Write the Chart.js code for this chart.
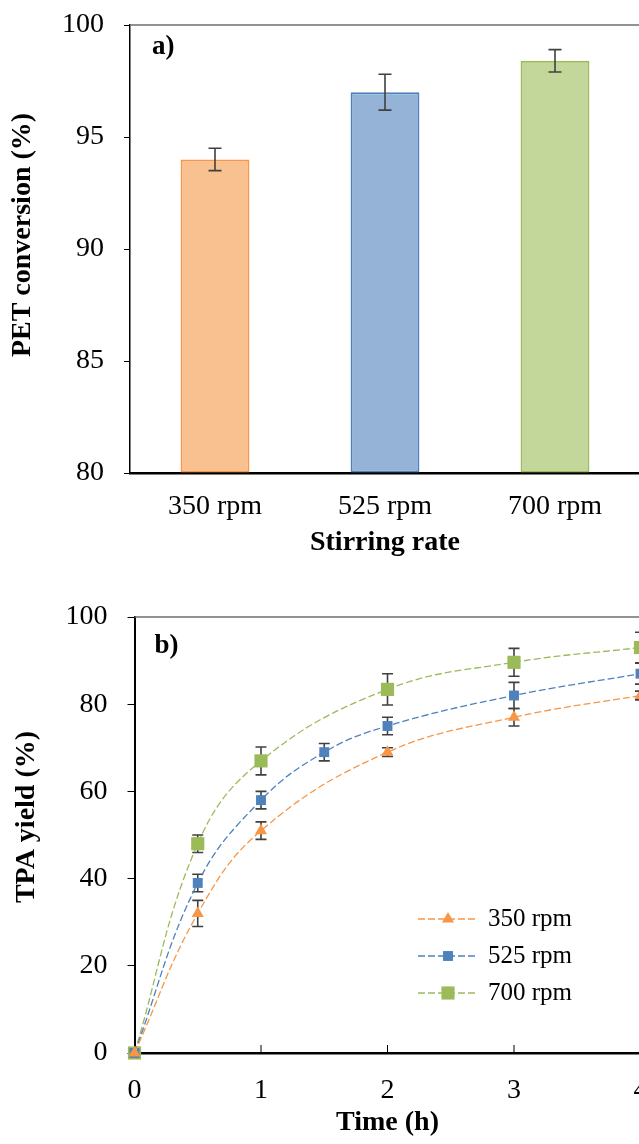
<!DOCTYPE html>
<html>
<head>
<meta charset="utf-8">
<script src="https://cdn.jsdelivr.net/npm/chart.js@4.4.1/dist/chart.umd.min.js"></script>
<style>
  html, body { margin: 0; padding: 0; background: #fff; overflow: hidden; width: 639px; height: 1144px; }
  #wrapA { position: absolute; left: 0; top: 0; }
  #wrapB { position: absolute; left: 0; top: 580px; }
</style>
</head>
<body>
<div id="wrapA"><canvas id="chartA" width="640" height="570"></canvas></div>
<div id="wrapB"><canvas id="chartB" width="700" height="564"></canvas></div>
<script>
// ---------- Data: panel a) ----------
const barCategories = ['350 rpm', '525 rpm', '700 rpm'];
const conversionValues = [94.0, 97.0, 98.4];
const conversionErrors = [0.5, 0.8, 0.5];
const convTicks = [80, 85, 90, 95, 100];

// ---------- Data: panel b) ----------
const seriesLabels = ['350 rpm', '525 rpm', '700 rpm'];
const time350 = [0, 0.5, 1, 2, 3, 4];
const yield350 = [0, 32, 51, 69, 77, 82];
const err350 = [0, 3, 2, 1, 2, 1];
const time525 = [0, 0.5, 1, 1.5, 2, 3, 4];
const yield525 = [0, 39, 58, 69, 75, 82, 87];
const err525 = [0, 2, 2, 2, 2, 3, 2.4];
const time700 = [0, 0.5, 1, 2, 3, 4];
const yield700 = [0, 48, 67, 83.4, 89.6, 93];
const err700 = [0, 2, 3.2, 3.6, 3.2, 3.5];
const timeTicks = [0, 1, 2, 3, 4];
const yieldTicks = [0, 20, 40, 60, 80, 100];

const SERIF = '"Liberation Serif", "Times New Roman", serif';
const ORANGE = '#F79646', BLUE = '#4F81BD', GREEN = '#9BBB59';

// Error bars plugin
const errorBarPlugin = {
  id: 'errorBars',
  draw(chart, opts) {
    const ctx = chart.ctx;
    const ys = chart.scales.y;
    ctx.save();
    ctx.strokeStyle = opts.color || '#404040';
    ctx.lineWidth = opts.lineWidth || 1.5;
    chart.data.datasets.forEach((ds, di) => {
      if (!ds.errors) return;
      const meta = chart.getDatasetMeta(di);
      meta.data.forEach((el, i) => {
        const e = ds.errors[i];
        if (!e) return;
        const raw = ds.data[i];
        const v = (typeof raw === 'object') ? raw.y : raw;
        const x = el.x;
        const yTop = ys.getPixelForValue(v + e);
        const yBot = ys.getPixelForValue(v - e);
        const hw = opts.capHalf || 6;
        ctx.beginPath();
        ctx.moveTo(x, yTop); ctx.lineTo(x, yBot);
        ctx.moveTo(x - hw, yTop); ctx.lineTo(x + hw, yTop);
        ctx.moveTo(x - hw, yBot); ctx.lineTo(x + hw, yBot);
        ctx.stroke();
      });
    });
    ctx.restore();
  },
  beforeDatasetsDraw(chart, args, opts) { if (opts.behind) this.draw(chart, opts); },
  afterDatasetsDraw(chart, args, opts) { if (!opts.behind) this.draw(chart, opts); }
};

// Frame (gray top border), panel letter, y title, inward x ticks, custom legend
const decorPlugin = {
  id: 'decor',
  afterDraw(chart, args, opts) {
    const ctx = chart.ctx;
    const ca = chart.chartArea;
    ctx.save();
    // top & right border
    ctx.strokeStyle = '#6f6f6f';
    ctx.lineWidth = 1.5;
    ctx.beginPath();
    ctx.moveTo(ca.left, ca.top); ctx.lineTo(ca.right, ca.top); ctx.lineTo(ca.right, ca.bottom);
    ctx.stroke();
    // panel letter
    ctx.fillStyle = '#000';
    ctx.font = 'bold 27px ' + SERIF;
    ctx.textBaseline = 'middle';
    ctx.textAlign = 'left';
    ctx.fillText(opts.letter, ca.left + opts.letterDx, ca.top + opts.letterDy);
    // y-axis title (rotated)
    if (opts.yTitle) {
      ctx.save();
      ctx.translate(opts.yTitle.x, (ca.top + ca.bottom) / 2 + opts.yTitle.dy);
      ctx.rotate(-Math.PI / 2);
      ctx.font = 'bold 28px ' + SERIF;
      ctx.textAlign = 'center';
      ctx.textBaseline = 'middle';
      ctx.fillText(opts.yTitle.text, 0, 0);
      ctx.restore();
    }
    // inward x ticks
    if (opts.inwardTicks) {
      const xs = chart.scales.x;
      ctx.strokeStyle = '#000';
      ctx.lineWidth = 1;
      opts.inwardTicks.forEach(t => {
        const px = xs.getPixelForValue(t);
        ctx.beginPath();
        ctx.moveTo(px, ca.bottom); ctx.lineTo(px, ca.bottom - 8);
        ctx.stroke();
      });
    }
    // custom legend
    if (opts.legend) {
      const L = opts.legend;
      chart.data.datasets.forEach((ds, i) => {
        const y = ca.top + L.top + i * L.rowGap;
        const x0 = ca.left + L.left;
        ctx.save();
        ctx.strokeStyle = ds.borderColor;
        ctx.lineWidth = ds.borderWidth;
        ctx.setLineDash(ds.borderDash);
        ctx.beginPath();
        ctx.moveTo(x0, y); ctx.lineTo(x0 + L.lineLen, y);
        ctx.stroke();
        ctx.setLineDash([]);
        ctx.fillStyle = ds.pointBackgroundColor;
        ctx.strokeStyle = ds.pointBorderColor;
        Chart.helpers.drawPoint(ctx, {
          pointStyle: ds.pointStyle, radius: ds.pointRadius, rotation: 0, borderWidth: 0
        }, x0 + L.lineLen / 2, y);
        ctx.restore();
        ctx.fillStyle = '#000';
        ctx.font = '25px ' + SERIF;
        ctx.textBaseline = 'middle';
        ctx.textAlign = 'left';
        ctx.fillText(ds.label, x0 + L.lineLen + L.textGap, y);
      });
    }
    ctx.restore();
  }
};

function noVPad(s, w) { s.width = w; s.paddingTop = 0; s.paddingBottom = 0; }

// ---------- Chart a ----------
new Chart(document.getElementById('chartA'), {
  type: 'bar',
  data: {
    labels: barCategories,
    datasets: [{
      label: 'PET conversion',
      data: conversionValues,
      errors: conversionErrors,
      base: convTicks[0],
      backgroundColor: ['#F9C090', '#95B3D7', '#C4D79B'],
      borderColor: [ORANGE, BLUE, GREEN],
      borderWidth: 2,
      borderSkipped: false,
      barPercentage: 1.0,
      categoryPercentage: 0.405
    }]
  },
  options: {
    responsive: false,
    animation: false,
    devicePixelRatio: 1,
    layout: { padding: { top: 25, right: 0, left: 0, bottom: 0 } },
    plugins: {
      legend: { display: false },
      tooltip: { enabled: false },
      errorBars: { color: '#404040', lineWidth: 1.6, capHalf: 6.5, behind: false },
      decor: { letter: 'a)', letterDx: 22, letterDy: 22,
               yTitle: { text: 'PET conversion (%)', x: 23, dy: -14 } }
    },
    scales: {
      x: {
        grid: { display: false, drawTicks: false },
        border: { display: true, color: '#000', width: 2.5 },
        ticks: { color: '#000', font: { family: SERIF, size: 28 }, padding: 17 },
        title: { display: true, text: 'Stirring rate', color: '#000',
                 font: { family: SERIF, size: 28, weight: 'bold' }, padding: { top: 0, bottom: 10 } },
        afterFit: s => { s.height = 97; s.paddingLeft = 0; s.paddingRight = 0; }
      },
      y: {
        min: convTicks[0], max: convTicks[convTicks.length - 1],
        afterBuildTicks: s => { s.ticks = convTicks.map(v => ({ value: v })); },
        grid: { display: true, drawOnChartArea: false, drawTicks: true, tickLength: 6, color: '#000', lineWidth: 1 },
        border: { display: true, color: '#000', width: 1.5 },
        ticks: { color: '#000', font: { family: SERIF, size: 28 }, padding: 20 },
        title: { display: false },
        afterFit: s => noVPad(s, 130)
      }
    }
  },
  plugins: [errorBarPlugin, decorPlugin]
});

// ---------- Chart b ----------
function pts(xs, ys) { return xs.map((x, i) => ({ x: x, y: ys[i] })); }
const lineCommon = { borderWidth: 1.3, borderDash: [7, 3], tension: 0.4, fill: false, clip: false, pointBorderWidth: 0 };

new Chart(document.getElementById('chartB'), {
  type: 'line',
  data: {
    datasets: [
      Object.assign({}, lineCommon, {
        label: seriesLabels[0], data: pts(time350, yield350), errors: err350,
        borderColor: ORANGE, pointBackgroundColor: ORANGE, pointBorderColor: ORANGE,
        pointStyle: 'triangle', pointRadius: 7
      }),
      Object.assign({}, lineCommon, {
        label: seriesLabels[1], data: pts(time525, yield525), errors: err525,
        borderColor: BLUE, pointBackgroundColor: BLUE, pointBorderColor: BLUE,
        pointStyle: 'rect', pointRadius: 7
      }),
      Object.assign({}, lineCommon, {
        label: seriesLabels[2], data: pts(time700, yield700), errors: err700,
        borderColor: GREEN, pointBackgroundColor: GREEN, pointBorderColor: GREEN,
        pointStyle: 'rect', pointRadius: 9.3
      })
    ]
  },
  options: {
    responsive: false,
    animation: false,
    devicePixelRatio: 1,
    layout: { padding: { top: 37, right: 59.5, left: 0, bottom: 0 } },
    plugins: {
      legend: { display: false },
      tooltip: { enabled: false },
      errorBars: { color: '#404040', lineWidth: 1.6, capHalf: 5.5, behind: true },
      decor: {
        letter: 'b)', letterDx: 20, letterDy: 29, inwardTicks: [1, 2, 3],
        yTitle: { text: 'TPA yield (%)', x: 27, dy: -18 },
        legend: { left: 283.5, top: 302, rowGap: 37, lineLen: 60, textGap: 10 }
      }
    },
    scales: {
      x: {
        type: 'linear',
        min: timeTicks[0], max: timeTicks[timeTicks.length - 1],
        afterBuildTicks: s => { s.ticks = timeTicks.map(v => ({ value: v })); },
        grid: { display: false, drawTicks: false },
        border: { display: true, color: '#000', width: 2.5 },
        ticks: { color: '#000', font: { family: SERIF, size: 28 }, padding: 21 },
        title: { display: true, text: 'Time (h)', color: '#000',
                 font: { family: SERIF, size: 28, weight: 'bold' }, padding: { top: 0, bottom: 4 } },
        afterFit: s => { s.height = 91; s.paddingLeft = 0; s.paddingRight = 0; }
      },
      y: {
        min: yieldTicks[0], max: yieldTicks[yieldTicks.length - 1],
        afterBuildTicks: s => { s.ticks = yieldTicks.map(v => ({ value: v })); },
        grid: { display: true, drawOnChartArea: false, drawTicks: true, tickLength: 7, color: '#000', lineWidth: 1 },
        border: { display: true, color: '#000', width: 2 },
        ticks: { color: '#000', font: { family: SERIF, size: 28 }, padding: 20 },
        title: { display: false },
        afterFit: s => noVPad(s, 134.5)
      }
    }
  },
  plugins: [errorBarPlugin, decorPlugin]
});
</script>
</body>
</html>
